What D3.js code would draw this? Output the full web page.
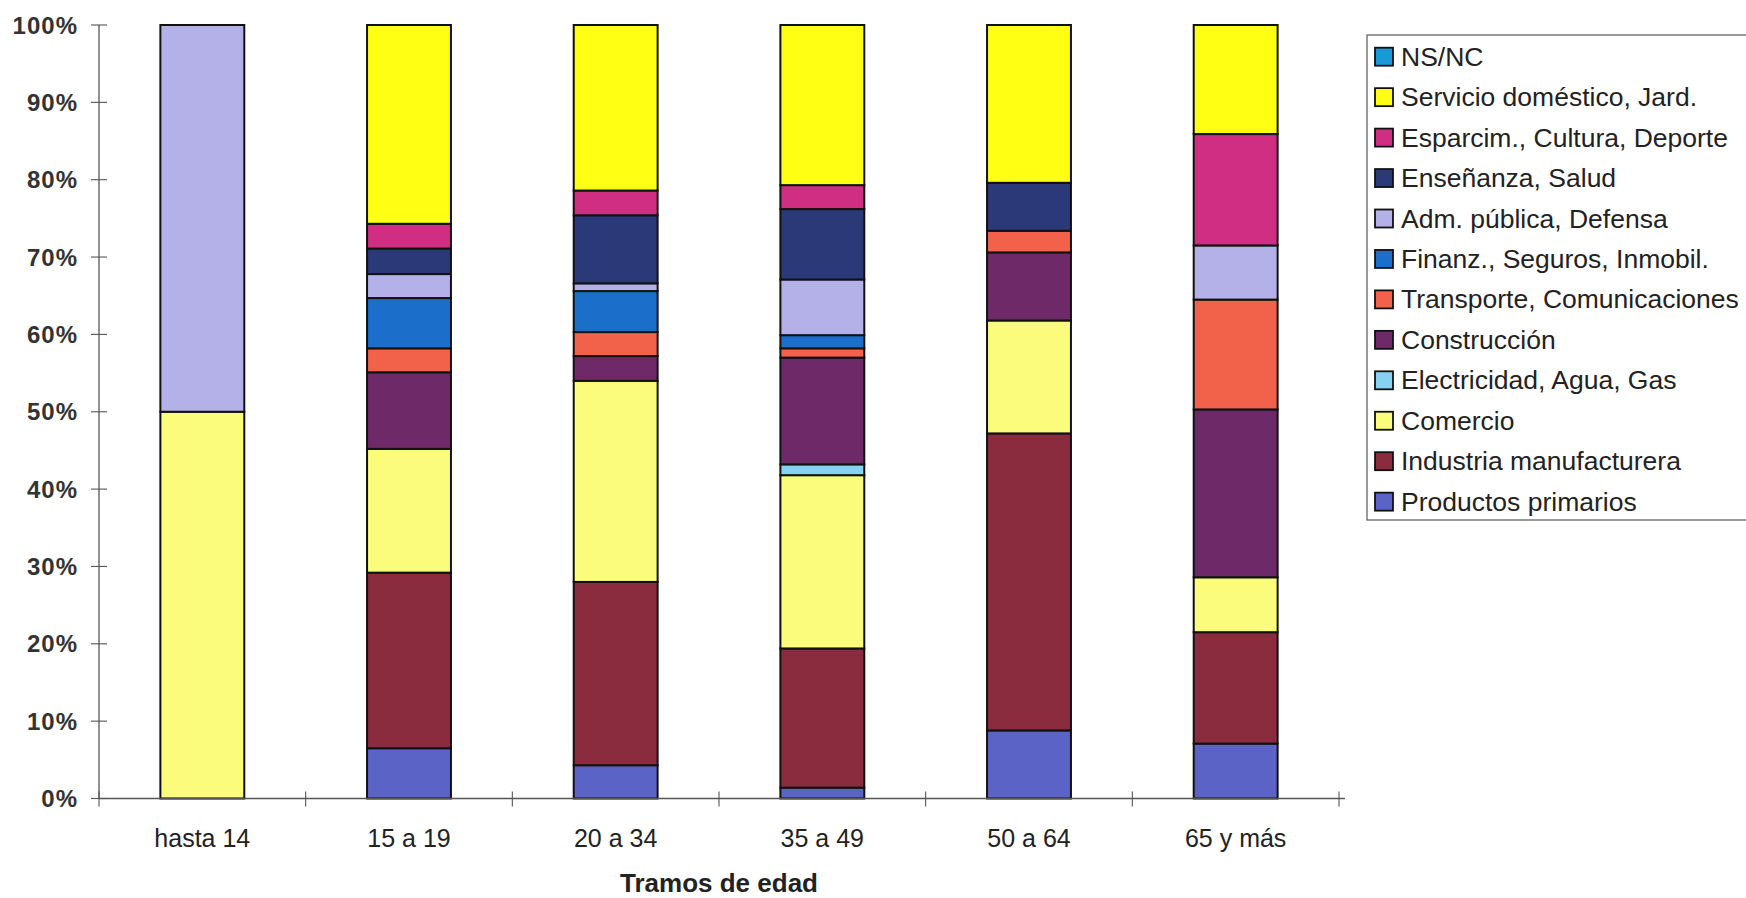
<!DOCTYPE html>
<html>
<head>
<meta charset="utf-8">
<script src="https://cdn.jsdelivr.net/npm/d3@7"></script>
<style>
  html, body { margin: 0; padding: 0; background: #fff; overflow: hidden; }
  svg { display: block; font-family: "Liberation Sans", Arial, sans-serif; }
</style>
</head>
<body>
<svg id="chart" width="1746" height="898"></svg>
<script>
// ---- Data (percent shares by age bracket) ----
const categories = ["hasta 14", "15 a 19", "20 a 34", "35 a 49", "50 a 64", "65 y más"];
const seriesNames = [
  "Productos primarios",
  "Industria manufacturera",
  "Comercio",
  "Electricidad, Agua, Gas",
  "Construcción",
  "Transporte, Comunicaciones",
  "Finanz., Seguros, Inmobil.",
  "Adm. pública, Defensa",
  "Enseñanza, Salud",
  "Esparcim., Cultura, Deporte",
  "Servicio doméstico, Jard.",
  "NS/NC"
];
const productosPrimarios   = [0,    6.5,  4.3,  1.4,  8.8,  7.1];
const industriaManuf       = [0,   22.7, 23.7, 18.0, 38.4, 14.4];
const comercio             = [50,  16.0, 26.0, 22.4, 14.6,  7.1];
const electricidad         = [0,    0,    0,    1.4,  0,    0];
const construccion         = [0,    9.9,  3.2, 13.8,  8.8, 21.7];
const transporte           = [0,    3.1,  3.1,  1.2,  2.8, 14.2];
const finanzas             = [0,    6.5,  5.3,  1.7,  0,    0];
const admPublica           = [50,   3.1,  1.0,  7.2,  0,    7.0];
const ensenanza            = [0,    3.3,  8.8,  9.1,  6.2,  0];
const esparcimiento        = [0,    3.2,  3.2,  3.1,  0,   14.4];
const servicioDomestico    = [0,   25.7, 21.4, 20.7, 20.4, 14.1];
const nsnc                 = [0,    0,    0,    0,    0,    0];
const seriesValues = [productosPrimarios, industriaManuf, comercio, electricidad, construccion,
  transporte, finanzas, admPublica, ensenanza, esparcimiento, servicioDomestico, nsnc];
const seriesColors = ["#5b63c6", "#8b2b3e", "#fbfb7c", "#86d2f2", "#6e2a68", "#f2624a",
  "#1b6fcb", "#b3b1e8", "#2c3979", "#cf2e83", "#ffff14", "#1999d8"];
const yTicks = [0, 10, 20, 30, 40, 50, 60, 70, 80, 90, 100];
const xTitle = "Tramos de edad";

(function () {
// ---- Table for stacking ----
const table = categories.map((c, i) => {
  const row = { cat: c };
  seriesNames.forEach((s, j) => { row[s] = seriesValues[j][i]; });
  return row;
});

const svg = d3.select("#chart");
const pLeft = 99, pRight = 1339, pTop = 25, pBottom = 798.5;

const x = d3.scaleBand().domain(categories).range([pLeft, pRight]).paddingInner(0.594).paddingOuter(0.297);
const xb = d3.scaleBand().domain(categories).range([pLeft, pRight]);
const y = d3.scaleLinear().domain([0, 100]).range([pBottom, pTop]);
const color = d3.scaleOrdinal().domain(seriesNames).range(seriesColors);

const stacked = d3.stack().keys(seriesNames)(table);

// bars
const g = svg.append("g");
g.selectAll("g.series").data(stacked).join("g")
  .attr("class", "series")
  .attr("fill", d => color(d.key))
  .selectAll("rect").data(d => d.filter(p => p[1] - p[0] > 0)).join("rect")
  .attr("x", p => x(p.data.cat))
  .attr("width", x.bandwidth())
  .attr("y", p => y(p[1]))
  .attr("height", p => y(p[0]) - y(p[1]))
  .attr("stroke", "#111")
  .attr("stroke-width", 2);

// y axis
const axisColor = "#555";
svg.append("line").attr("x1", pLeft).attr("x2", pLeft).attr("y1", pTop).attr("y2", pBottom)
  .attr("stroke", axisColor).attr("stroke-width", 1.3);
svg.append("g").selectAll("line").data(yTicks).join("line")
  .attr("x1", pLeft - 8).attr("x2", pLeft + 8)
  .attr("y1", d => y(d)).attr("y2", d => y(d))
  .attr("stroke", axisColor).attr("stroke-width", 1.1);
svg.append("g").selectAll("text").data(yTicks).join("text")
  .attr("x", 78).attr("y", d => y(d))
  .attr("text-anchor", "end").attr("dominant-baseline", "central")
  .attr("font-size", 24).attr("font-weight", "bold").attr("letter-spacing", 1).attr("fill", "#333")
  .text(d => d + "%");

// x axis
svg.append("line").attr("x1", pLeft).attr("x2", pRight + 6).attr("y1", pBottom).attr("y2", pBottom)
  .attr("stroke", axisColor).attr("stroke-width", 1.3);
const xTickPos = categories.map(c => xb(c)).concat([pRight]);
svg.append("g").selectAll("line").data(xTickPos).join("line")
  .attr("x1", d => d).attr("x2", d => d)
  .attr("y1", pBottom - 7).attr("y2", pBottom + 8)
  .attr("stroke", axisColor).attr("stroke-width", 1.1);
svg.append("g").selectAll("text").data(categories).join("text")
  .attr("x", d => x(d) + x.bandwidth() / 2).attr("y", 838)
  .attr("text-anchor", "middle").attr("dominant-baseline", "central")
  .attr("font-size", 25).attr("fill", "#222")
  .text(d => d);
svg.append("text").attr("x", (pLeft + pRight) / 2).attr("y", 892)
  .attr("text-anchor", "middle")
  .attr("font-size", 26).attr("font-weight", "bold").attr("fill", "#222")
  .text(xTitle);

// legend
const legendNames = seriesNames.slice().reverse();
const lg = svg.append("g");
lg.append("rect").attr("x", 1367).attr("y", 35).attr("width", 420).attr("height", 485)
  .attr("fill", "#fff").attr("stroke", "#666").attr("stroke-width", 1.3);
const items = lg.selectAll("g.item").data(legendNames).join("g").attr("class", "item")
  .attr("transform", (d, i) => `translate(1375, ${56.7 + i * 40.45})`);
items.append("rect").attr("x", 0).attr("y", -9).attr("width", 18).attr("height", 18)
  .attr("fill", d => color(d)).attr("stroke", "#111").attr("stroke-width", 1.8);
items.append("text").attr("x", 26).attr("y", 0).attr("dominant-baseline", "central")
  .attr("font-size", 26.5).attr("fill", "#222").text(d => d);
})();
</script>
</body>
</html>
